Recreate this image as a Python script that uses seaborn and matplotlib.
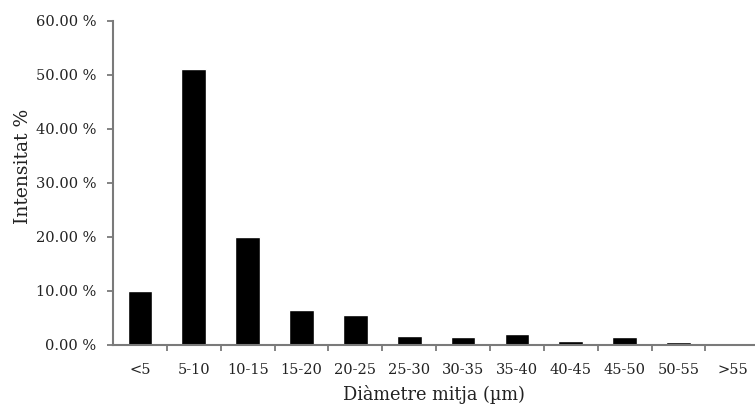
import numpy as np
import seaborn as sns
import matplotlib.pyplot as plt
from matplotlib.ticker import FixedLocator, FuncFormatter

# values
categories = ['<5', '5-10', '10-15', '15-20', '20-25', '25-30', '30-35',
              '35-40', '40-45', '45-50', '50-55', '>55']
intensity = [10.0, 51.0, 20.0, 6.5, 5.5, 1.6, 1.4, 2.0, 0.8, 1.4, 0.6, 0.0]
y_ticks = [0, 10, 20, 30, 40, 50, 60]

sns.set_style('white')
plt.rcParams['font.family'] = ['DejaVu Serif']

fig = plt.figure(figsize=(7.55, 4.15), dpi=100)
ax = fig.add_axes([0.1497, 0.1687, 0.8503, 0.7812])

sns.barplot(x=categories, y=intensity, color='black', saturation=1,
            width=0.46, ax=ax)

txt = '#222222'
spine = '#7a7a7a'

ax.set_xlim(-0.5, 11.42)
ax.set_ylim(0, 60)
ax.set_yticks(y_ticks)
ax.yaxis.set_major_formatter(FuncFormatter(lambda v, p: f'{v:.2f} %'))

# category ticks drawn between bars
ax.xaxis.set_minor_locator(FixedLocator(np.arange(0.5, len(categories) - 1, 1)))
ax.tick_params(axis='x', which='major', length=0, pad=13, labelsize=10.5,
               labelcolor=txt)
ax.tick_params(axis='x', which='minor', bottom=True, length=4, width=1.3,
               direction='out', color=spine)
ax.tick_params(axis='y', left=True, length=4, width=1.3, direction='out',
               color=spine, pad=8, labelsize=10.5, labelcolor=txt)

sns.despine(ax=ax, top=True, right=True)
for s in ['left', 'bottom']:
    ax.spines[s].set_color(spine)
    ax.spines[s].set_linewidth(1.5)

ax.set_xlabel('Diàmetre mitja (µm)', fontsize=12.8, color=txt)
ax.set_ylabel('Intensitat %', fontsize=13.5, color=txt)
ax.xaxis.set_label_coords(0.5, -0.122)
ax.yaxis.set_label_coords(-0.126, 0.55)

fig.savefig('out.png', dpi=100)
